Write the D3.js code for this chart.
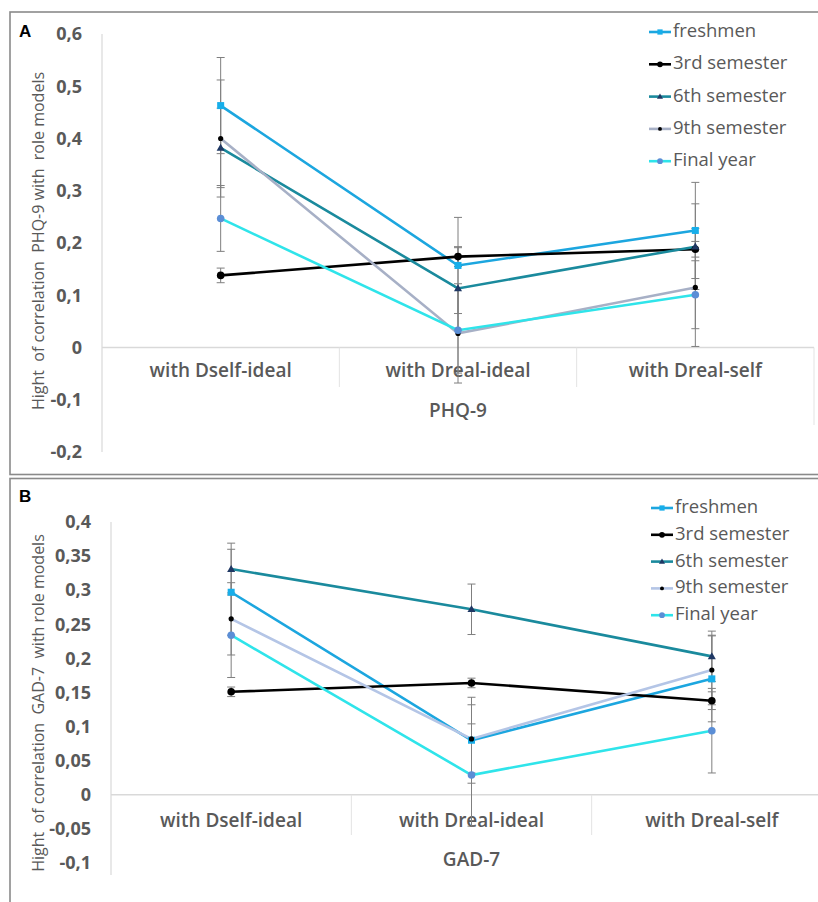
<!DOCTYPE html>
<html><head><meta charset="utf-8">
<script src="https://cdn.jsdelivr.net/npm/d3@7"></script>
<style>
body{margin:0;background:#fff;}
svg{display:block;font-family:"Open Sans",sans-serif;}
</style></head>
<body><svg id="c" width="818" height="902"></svg>
<script>
// ---- data ----
const categories = ["with Dself-ideal", "with Dreal-ideal", "with Dreal-self"];
const seriesNames = ["freshmen", "3rd semester", "6th semester", "9th semester", "Final year"];

// Panel A: PHQ-9
const phqTicks = [0.6, 0.5, 0.4, 0.3, 0.2, 0.1, 0, -0.1, -0.2];
const phqTickLabels = ["0,6", "0,5", "0,4", "0,3", "0,2", "0,1", "0", "-0,1", "-0,2"];
const phqFreshmen = [0.463, 0.157, 0.224];
const phq3rd = [0.138, 0.174, 0.188];
const phq6th = [0.382, 0.113, 0.193];
const phq9th = [0.400, 0.027, 0.115];
const phqFinal = [0.247, 0.033, 0.101];
const phqErrFreshmen = [0.092, 0.092, 0.092];
const phqErr3rd = [0.014, 0.019, 0.015];
const phqErr6th = [0.076, 0.078, 0.082];
const phqErr9th = [0.112, 0.095, 0.113];
const phqErrFinal = [0.063, 0.082, 0.065];

// Panel B: GAD-7
const gadTicks = [0.4, 0.35, 0.3, 0.25, 0.2, 0.15, 0.1, 0.05, 0, -0.05, -0.1];
const gadTickLabels = ["0,4", "0,35", "0,3", "0,25", "0,2", "0,15", "0,1", "0,05", "0", "-0,05", "-0,1"];
const gadFreshmen = [0.297, 0.080, 0.170];
const gad3rd = [0.151, 0.164, 0.138];
const gad6th = [0.331, 0.272, 0.203];
const gad9th = [0.258, 0.082, 0.183];
const gadFinal = [0.234, 0.029, 0.094];
const gadErrFreshmen = [0.063, 0.063, 0.063];
const gadErr3rd = [0.007, 0.007, 0.013];
const gadErr6th = [0.038, 0.037, 0.037];
const gadErr9th = [0.053, 0.050, 0.051];
const gadErrFinal = [0.062, 0.075, 0.062];

// ---- styles ----
const markerColors = ["#17AEEA", "#000000", "#1F3864", "#000000", "#5B8ED6"];
const markerTypes = ["square", "circle", "triangle", "dot", "circle"];
const textColor = "#595959";

const svg = d3.select("#c");

function marker(g, type, x, y, col, scale) {
  const s = scale || 1;
  if (type === "square") {
    g.append("rect").attr("x", x - 3.5 * s).attr("y", y - 3.5 * s).attr("width", 7 * s).attr("height", 7 * s).attr("fill", col);
  } else if (type === "circle") {
    g.append("circle").attr("cx", x).attr("cy", y).attr("r", 3.8 * s).attr("fill", col);
  } else if (type === "triangle") {
    g.append("path").attr("d", d3.symbol(d3.symbolTriangle, 28 * s * s)()).attr("transform", `translate(${x},${y + 0.5})`).attr("fill", col);
  } else {
    g.append("circle").attr("cx", x).attr("cy", y).attr("r", 2.6 * s).attr("fill", col);
  }
}

function panel(cfg) {
  const g = svg.append("g");
  g.append("rect").attr("x", 10).attr("y", cfg.boxTop).attr("width", 830).attr("height", cfg.boxH)
    .attr("fill", "none").attr("stroke", "#8a8a8a").attr("stroke-width", 1.6);
  g.append("text").attr("x", 19).attr("y", cfg.letterY).text(cfg.letter)
    .attr("font-size", 17).attr("font-weight", 700).attr("fill", "#000").attr("font-family", "Liberation Sans, Arial, sans-serif");

  const y = d3.scaleLinear().domain(cfg.yDomain).range(cfg.yRange);
  const x = d3.scaleBand().domain(categories).range(cfg.xRange).padding(0);
  const y0 = y(0);

  g.append("line").attr("x1", cfg.xRange[0]).attr("x2", cfg.xRange[0])
    .attr("y1", cfg.yRange[1]).attr("y2", Math.max(cfg.yRange[0], cfg.levelBottom))
    .attr("stroke", "#d9d9d9").attr("stroke-width", 1.2);
  const yAxis = d3.axisLeft(y).tickValues(cfg.ticks).tickFormat((d, i) => cfg.tickLabels[i]).tickSize(0).tickPadding(0);
  const ax = g.append("g").attr("transform", `translate(${cfg.tickX},0)`).call(yAxis);
  ax.select(".domain").remove();
  ax.selectAll("text").attr("font-size", 18).attr("font-weight", 700).attr("fill", textColor)
    .attr("font-family", "Open Sans, sans-serif");

  g.append("line").attr("x1", cfg.xRange[0]).attr("x2", cfg.xRange[1]).attr("y1", y0).attr("y2", y0)
    .attr("stroke", "#d9d9d9").attr("stroke-width", 1.4);
  categories.forEach((c, i) => {
    if (i > 0) {
      g.append("line").attr("x1", x(c)).attr("x2", x(c)).attr("y1", y0).attr("y2", cfg.sepBottom)
        .attr("stroke", "#e3e3e3").attr("stroke-width", 1);
    }
    g.append("text").attr("x", x(c) + x.bandwidth() / 2).attr("y", cfg.catLabelY).text(c)
      .attr("text-anchor", "middle").attr("dominant-baseline", "middle")
      .attr("font-size", 19).attr("font-weight", 600).attr("fill", textColor);
  });
  g.append("line").attr("x1", cfg.xRange[1]).attr("x2", cfg.xRange[1]).attr("y1", y0).attr("y2", cfg.levelBottom)
    .attr("stroke", "#e3e3e3").attr("stroke-width", 1);
  g.append("text").attr("x", x(categories[1]) + x.bandwidth() / 2).attr("y", cfg.titleY).text(cfg.title)
    .attr("text-anchor", "middle").attr("dominant-baseline", "middle")
    .attr("font-size", 19).attr("font-weight", 600).attr("fill", textColor);

  g.append("text").attr("transform", `translate(${cfg.yTitleX},${cfg.yTitleY}) rotate(-90)`)
    .attr("text-anchor", "middle").attr("dominant-baseline", "middle")
    .style("white-space", "pre").text(cfg.yTitle)
    .attr("font-size", 16).attr("fill", textColor);

  const cx = c => x(c) + x.bandwidth() / 2;
  cfg.series.forEach((vals, si) => {
    vals.forEach((v, i) => {
      const e = cfg.errs[si][i];
      const xx = cx(categories[i]);
      g.append("line").attr("x1", xx).attr("x2", xx).attr("y1", y(v + e)).attr("y2", y(v - e)).attr("stroke", "#7f7f7f").attr("stroke-width", 1);
      [v + e, v - e].forEach(t => g.append("line").attr("x1", xx - 4).attr("x2", xx + 4).attr("y1", y(t)).attr("y2", y(t)).attr("stroke", "#7f7f7f").attr("stroke-width", 1));
    });
  });
  const line = d3.line().x((d, i) => cx(categories[i])).y(d => y(d));
  cfg.series.forEach((vals, si) => {
    g.append("path").attr("d", line(vals)).attr("fill", "none").attr("stroke", cfg.lineColors[si]).attr("stroke-width", 2.6);
  });
  cfg.series.forEach((vals, si) => {
    vals.forEach((v, i) => marker(g, markerTypes[si], cx(categories[i]), y(v), markerColors[si], 1));
  });

  seriesNames.forEach((n, si) => {
    const ly = cfg.legY0 + si * cfg.legDy;
    g.append("line").attr("x1", cfg.legX).attr("x2", cfg.legX + 22).attr("y1", ly).attr("y2", ly)
      .attr("stroke", cfg.lineColors[si]).attr("stroke-width", 2.6);
    marker(g, markerTypes[si], cfg.legX + 11, ly, markerColors[si], 0.75);
    g.append("text").attr("x", cfg.legX + 24).attr("y", ly).attr("dominant-baseline", "middle").text(n)
      .attr("font-size", 18.5).attr("fill", textColor);
  });
}

panel({
  letter: "A", letterY: 37, boxTop: 12, boxH: 462.5,
  yDomain: [-0.2, 0.6], yRange: [452, 34], xRange: [102, 814],
  ticks: phqTicks, tickLabels: phqTickLabels, tickX: 82,
  catLabelY: 372, sepBottom: 387, levelBottom: 425, titleY: 412, title: "PHQ-9",
  yTitle: "Hight  of correlation  PHQ-9 with  role models", yTitleX: 40, yTitleY: 241,
  series: [phqFreshmen, phq3rd, phq6th, phq9th, phqFinal],
  errs: [phqErrFreshmen, phqErr3rd, phqErr6th, phqErr9th, phqErrFinal],
  lineColors: ["#1CA6DF", "#000000", "#1A8A9D", "#A7B0C6", "#2FE4EA"],
  legX: 649, legY0: 32, legDy: 32.3
});
panel({
  letter: "B", letterY: 502, boxTop: 478.5, boxH: 440,
  yDomain: [-0.1, 0.4], yRange: [863, 522], xRange: [111, 832],
  ticks: gadTicks, tickLabels: gadTickLabels, tickX: 91,
  catLabelY: 822, sepBottom: 835, levelBottom: 875, titleY: 861, title: "GAD-7",
  yTitle: "Hight  of correlation  GAD-7  with role models", yTitleX: 40, yTitleY: 703,
  series: [gadFreshmen, gad3rd, gad6th, gad9th, gadFinal],
  errs: [gadErrFreshmen, gadErr3rd, gadErr6th, gadErr9th, gadErrFinal],
  lineColors: ["#1CA6DF", "#000000", "#1A8A9D", "#B4C5E6", "#2FE4EA"],
  legX: 651, legY0: 508, legDy: 26.8
});
</script></body></html>
